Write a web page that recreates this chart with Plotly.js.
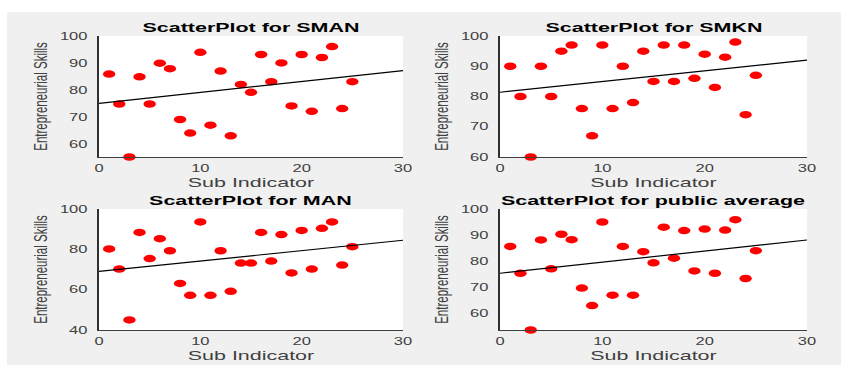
<!DOCTYPE html>
<html>
<head>
<meta charset="utf-8">
<script src="https://cdn.plot.ly/plotly-3.0.1.min.js"></script>
<style>
  html, body { margin: 0; padding: 0; background: #ffffff; width: 841px; height: 367px; overflow: hidden; }
  #wrap { position: absolute; left: 7px; top: 12px; width: 834px; height: 353px; overflow: hidden; }
  #chart { position: absolute; left: 0; top: 0; width: 505px; height: 353px; transform-origin: 0 0; transform: scaleX(1.6515); }
</style>
</head>
<body>
<div id="wrap"><div id="chart"></div></div>
<script>
// ---- data ----
const subIndicator = [1,2,3,4,5,6,7,8,9,10,11,12,13,14,15,16,17,18,19,20,21,22,23,24,25];
const smanSkills   = [86,75,55.5,85,75,90,88,69.3,64.3,94,67.2,87.1,63.3,82.2,79.3,93.2,83.2,90.1,74.3,93.2,72.3,92.1,96.1,73.3,83.2];
const smknSkills   = [90,80,60,90,80,95,97,76,67,97,76,90,78,95,85,97,85,97,86,94,83,93,98,74,87];
const manSkills    = [80.2,70.2,45,88.4,75.4,85.3,79.3,63.1,57.2,93.6,57.2,79.3,59.2,73.2,73.2,88.4,74.2,87.3,68.3,89.4,70.2,90.4,93.6,72.2,81.3];
const publicSkills = [85.6,75.3,53.5,88.1,77.0,90.3,88.2,69.6,62.9,95.0,66.9,85.6,66.9,83.6,79.3,93.0,81.1,91.7,76.2,92.3,75.3,91.9,95.9,73.3,84.0];
// fitted trend lines (endpoints)
const fitX = [0, 30];
const smanFit = [75.2, 87.3];
const smknFit = [81.4, 92.0];
const manFit = [69.1, 84.5];
const publicFit = [75.3, 88.1];
const panelTitles = ['ScatterPlot for SMAN', 'ScatterPlot for SMKN', 'ScatterPlot for MAN', 'ScatterPlot for public average'];
const xTicks = [0, 10, 20, 30];
const yTicksA = [60, 70, 80, 90, 100];
const yTicksC = [40, 60, 80, 100];

const panels = [
  {ys: smanSkills, fit: smanFit, xa: 'x', ya: 'y', yRange: [55.5, 100], yTicks: yTicksA},
  {ys: smknSkills, fit: smknFit, xa: 'x2', ya: 'y2', yRange: [60, 100], yTicks: yTicksA},
  {ys: manSkills, fit: manFit, xa: 'x3', ya: 'y3', yRange: [40, 100], yTicks: yTicksC},
  {ys: publicSkills, fit: publicFit, xa: 'x4', ya: 'y4', yRange: [53.5, 100], yTicks: yTicksA}
];

const FONT = 'Liberation Sans, Arial, Helvetica, sans-serif';
const traces = [];
panels.forEach(p => {
  traces.push({
    type: 'scatter', mode: 'markers', x: subIndicator, y: p.ys, xaxis: p.xa, yaxis: p.ya,
    marker: {color: '#ff0000', size: 7.5, line: {width: 0}}, cliponaxis: false, showlegend: false, hoverinfo: 'x+y'
  });
  traces.push({
    type: 'scatter', mode: 'lines', x: fitX, y: p.fit, xaxis: p.xa, yaxis: p.ya,
    line: {color: '#000000', width: 1.2}, showlegend: false, hoverinfo: 'skip'
  });
});

// domains in fractions of the grey figure area (834 x 353 screen px)
const colL = [92/834, 396/834];
const colR = [493/834, 800/834];
const rowT = [1 - 145/353, 1 - 24/353];
const rowB = [1 - 318/353, 1 - 197/353];
const domains = [[colL, rowT], [colR, rowT], [colL, rowB], [colR, rowB]];

function xAxis(dom, anchor) {
  return {
    domain: dom, anchor: anchor, range: [0, 30], tickvals: xTicks, ticktext: xTicks.map(String),
    showline: true, linecolor: '#404040', linewidth: 1, mirror: false,
    showgrid: false, zeroline: false, ticks: 'outside', ticklen: 2, tickcolor: 'rgba(0,0,0,0)',
    tickfont: {family: FONT, size: 10, color: '#404040'}, automargin: false,
    title: {text: 'Sub Indicator', font: {family: FONT, size: 13, color: '#404040'}, standoff: 4}
  };
}
function yAxis(dom, anchor, range, ticks) {
  return {
    domain: dom, anchor: anchor, range: range, tickvals: ticks, ticktext: ticks.map(String),
    showline: true, linecolor: '#303030', linewidth: 1, mirror: false,
    showgrid: false, zeroline: false, ticks: 'outside', ticklen: 4, tickcolor: 'rgba(0,0,0,0)',
    tickfont: {family: FONT, size: 10, color: '#404040'}, automargin: false,
    title: {text: 'Entrepreneurial Skills', font: {family: FONT, size: 11.5, color: '#404040'}, standoff: 4}
  };
}

const layout = {
  width: 505, height: 353,
  margin: {l: 0, r: 0, t: 0, b: 0, pad: 0},
  paper_bgcolor: '#f0f0f0', plot_bgcolor: '#ffffff',
  showlegend: false,
  annotations: panelTitles.map((t, i) => ({
    text: '<b>' + t + '</b>', xref: (i === 0 ? 'x' : 'x' + (i + 1)) + ' domain', yref: (i === 0 ? 'y' : 'y' + (i + 1)) + ' domain',
    x: 0.5, y: 1, xanchor: 'center', yanchor: 'bottom', showarrow: false, yshift: -1,
    font: {family: FONT, size: 13, color: '#000000'}
  }))
};
panels.forEach((p, i) => {
  const s = i === 0 ? '' : String(i + 1);
  layout['xaxis' + s] = xAxis(domains[i][0], 'y' + s);
  layout['yaxis' + s] = yAxis(domains[i][1], 'x' + s, p.yRange, p.yTicks);
});

Plotly.newPlot('chart', traces, layout, {displayModeBar: false, staticPlot: true});
</script>
</body>
</html>
